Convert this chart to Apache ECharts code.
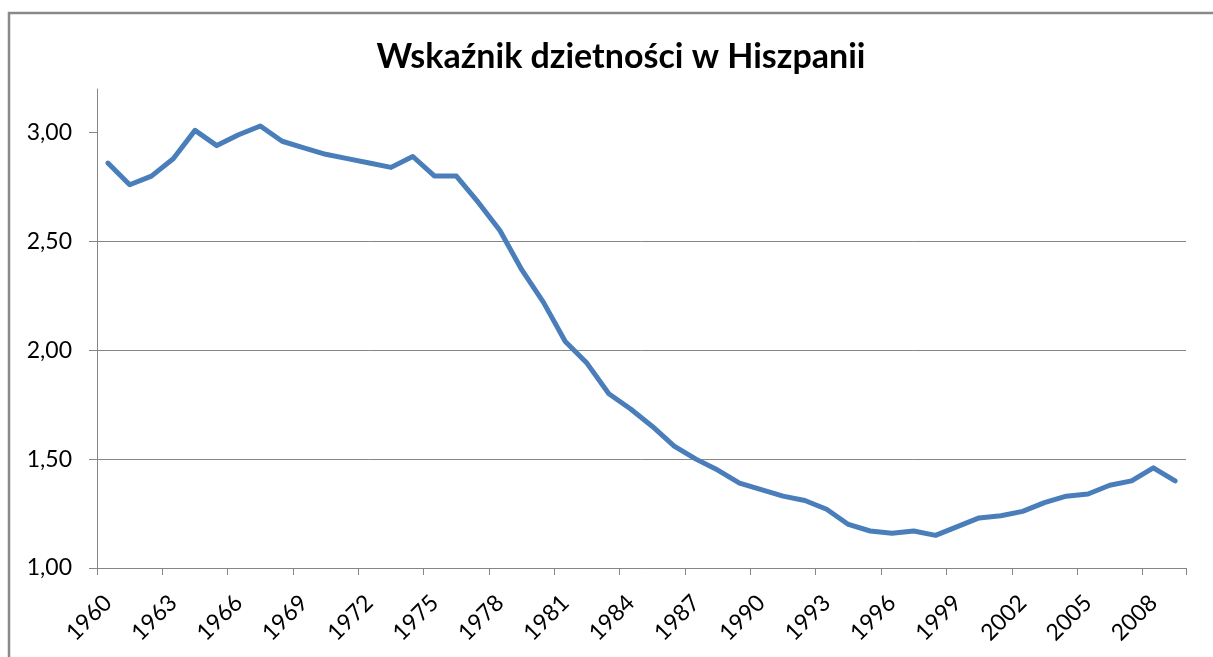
<!DOCTYPE html>
<html>
<head>
<meta charset="utf-8">
<script src="https://cdn.jsdelivr.net/npm/echarts@6/dist/echarts.min.js"></script>
<style>
html,body{margin:0;padding:0;background:#fff;}
#chart{width:1213px;height:657px;}
</style>
</head>
<body>
<div id="chart"></div>
<script>
const titleText = 'Wskaźnik dzietności w Hiszpanii';
const years = ['1960','1961','1962','1963','1964','1965','1966','1967','1968','1969',
  '1970','1971','1972','1973','1974','1975','1976','1977','1978','1979',
  '1980','1981','1982','1983','1984','1985','1986','1987','1988','1989',
  '1990','1991','1992','1993','1994','1995','1996','1997','1998','1999',
  '2000','2001','2002','2003','2004','2005','2006','2007','2008','2009'];
const fertility = [2.86,2.76,2.80,2.88,3.01,2.94,2.99,3.03,2.96,2.93,
  2.90,2.88,2.86,2.84,2.89,2.80,2.80,2.68,2.55,2.37,
  2.22,2.04,1.94,1.80,1.73,1.65,1.56,1.50,1.45,1.39,
  1.36,1.33,1.31,1.27,1.20,1.17,1.16,1.17,1.15,1.19,
  1.23,1.24,1.26,1.30,1.33,1.34,1.38,1.40,1.46,1.40];
const yTicks = [1.0, 1.5, 2.0, 2.5, 3.0];
const yMin = 1.0, yMax = 3.2;

const FONT = 'Lato';
const chart = echarts.init(document.getElementById('chart'), null, {renderer:'canvas'});
chart.setOption({
  backgroundColor: '#ffffff',
  animation: false,
  graphic: [{
    type: 'rect',
    shape: {x: 9, y: 13, width: 1400, height: 900},
    style: {fill: 'none', stroke: '#8a8a8a', lineWidth: 2.5},
    silent: true
  }],
  title: {
    text: titleText,
    left: 616,
    textAlign: 'center',
    top: 35,
    textStyle: {fontFamily: FONT, fontWeight: 'bold', fontSize: 34, color: '#000'}
  },
  grid: {left: 97, right: 27, top: 89, bottom: 89, containLabel: false},
  xAxis: {
    type: 'category',
    data: years,
    boundaryGap: true,
    axisLine: {show: true, lineStyle: {color: '#868686', width: 1}},
    axisTick: {show: true, length: 7, lineStyle: {color: '#868686'}},
    axisLabel: {
      interval: 2, rotate: 45, margin: 31,
      fontFamily: FONT, fontSize: 23, color: '#000'
    },
    splitLine: {show: false}
  },
  yAxis: {
    type: 'value',
    min: yMin, max: yMax, interval: 0.5,
    axisLine: {show: true, lineStyle: {color: '#868686', width: 1}},
    axisTick: {show: true, length: 8, inside: false, customValues: yTicks, lineStyle: {color: '#868686'}},
    axisLabel: {
      margin: 25, customValues: yTicks,
      fontFamily: FONT, fontSize: 23, color: '#000',
      formatter: v => v.toFixed(2).replace('.', ',')
    },
    splitLine: {show: true, showMaxLine: false, lineStyle: {color: '#868686', width: 1}}
  },
  series: [{
    type: 'line',
    data: fertility,
    symbol: 'none',
    smooth: false,
    lineStyle: {color: '#4A7EBB', width: 5, cap: 'round', join: 'round'}
  }]
});
</script>
</body>
</html>
